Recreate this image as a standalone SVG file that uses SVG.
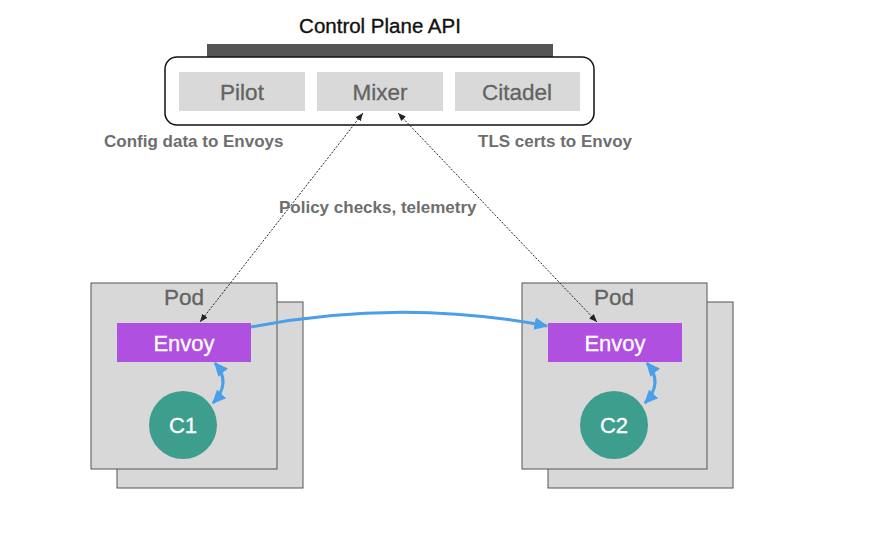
<svg xmlns="http://www.w3.org/2000/svg" width="894" height="542" viewBox="0 0 894 542">
<defs>
<style>
text{font-family:"Liberation Sans",Arial,sans-serif}
.comp{fill:#d9d9d9}
.ctext{font-size:22.5px;fill:#636363;text-anchor:middle;stroke:#636363;stroke-width:0.3}
.lbl{font-size:17px;font-weight:bold;fill:#6e6e6e}
.pod{fill:#d8d8d8;stroke:#555;stroke-width:1}
.podt{font-size:22.5px;fill:#636363;text-anchor:middle;stroke:#636363;stroke-width:0.3}
.envoy{fill:#b050e0}
.wt{font-size:22px;fill:#fff;text-anchor:middle;stroke:#fff;stroke-width:0.3}
.c{fill:#3d9e8d}
.dot{fill:none;stroke:#222;stroke-width:1;stroke-dasharray:2 1.5}
.blue{fill:none;stroke:#4a9fe8;stroke-width:3}
</style>
<marker id="ah" viewBox="0 0 10 10" refX="10" refY="5" markerWidth="8" markerHeight="8" orient="auto-start-reverse" markerUnits="userSpaceOnUse"><path d="M0,1 L10,5 L0,9 z" fill="#222"/></marker>
<marker id="bh" viewBox="0 0 10 10" refX="9" refY="5" markerWidth="14" markerHeight="14" orient="auto-start-reverse" markerUnits="userSpaceOnUse"><path d="M0,0.5 L10,5 L0,9.5 z" fill="#4a9fe8"/></marker>
</defs>
<rect width="894" height="542" fill="#fff"/>
<g id="control-plane">
<text x="380" y="33" style="font-size:20.5px;fill:#111;text-anchor:middle;stroke:#111;stroke-width:0.35">Control Plane API</text>
<rect x="207" y="44" width="346" height="13" fill="#555"/>
<rect x="165" y="57" width="429" height="68" rx="12" fill="#fff" stroke="#111" stroke-width="1.5"/>
</g>
<g id="pilot"><rect class="comp" x="179" y="72" width="126" height="39"/><text class="ctext" x="242" y="100">Pilot</text></g>
<g id="mixer"><rect class="comp" x="317" y="72" width="126" height="39"/><text class="ctext" x="380" y="100">Mixer</text></g>
<g id="citadel"><rect class="comp" x="455" y="72" width="125" height="39"/><text class="ctext" x="517" y="100">Citadel</text></g>
<g id="labels">
<text class="lbl" x="104" y="147">Config data to Envoys</text>
<text class="lbl" x="478" y="147">TLS certs to Envoy</text>
<text class="lbl" x="279" y="213">Policy checks, telemetry</text>
</g>
<g id="pod1">
<rect class="pod" x="117" y="302" width="186" height="186"/>
<rect class="pod" x="91" y="283" width="186" height="186"/>
<text class="podt" x="184" y="305">Pod</text>
</g>
<g id="envoy1"><rect class="envoy" x="117" y="323" width="134" height="39"/><text class="wt" x="184" y="351">Envoy</text></g>
<g id="c1"><circle class="c" cx="183" cy="425" r="34"/><text class="wt" x="183" y="433">C1</text></g>
<g id="pod2">
<rect class="pod" x="548" y="302" width="185" height="186"/>
<rect class="pod" x="522" y="283" width="185" height="186"/>
<text class="podt" x="614" y="305">Pod</text>
</g>
<g id="envoy2"><rect class="envoy" x="548" y="323" width="134" height="39"/><text class="wt" x="615" y="351">Envoy</text></g>
<g id="c2"><circle class="c" cx="614" cy="425" r="34"/><text class="wt" x="614" y="433">C2</text></g>
<g id="connectors">
<path class="dot" d="M363,113 L200,322" marker-start="url(#ah)" marker-end="url(#ah)"/>
<path class="dot" d="M398,113 L597,322" marker-start="url(#ah)" marker-end="url(#ah)"/>
<path class="blue" d="M251,327 Q400,298 547,326" marker-end="url(#bh)"/>
<path class="blue" d="M215,363 Q232,383 213,403" marker-start="url(#bh)" marker-end="url(#bh)"/>
<path class="blue" d="M647,363 Q664,383 645,403" marker-start="url(#bh)" marker-end="url(#bh)"/>
</g>
</svg>
